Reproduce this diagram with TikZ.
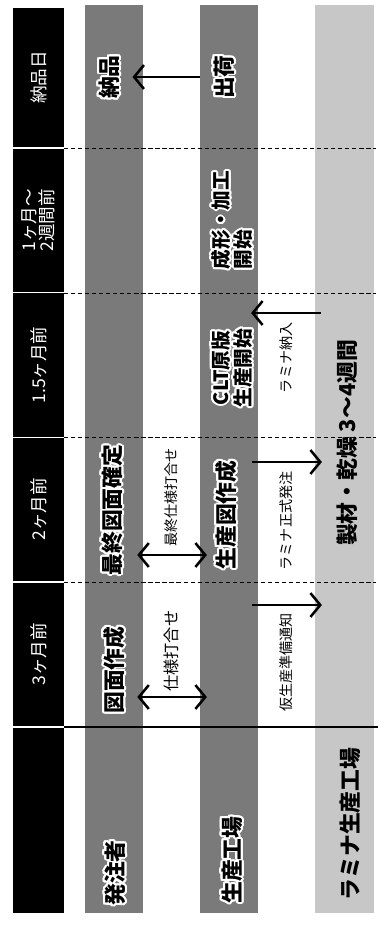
\documentclass[tikz,border=0pt]{standalone}
\usepackage{fontspec}
\setmainfont{Noto Sans CJK JP}
\usepackage{contour}
\contourlength{1.4pt}
\usetikzlibrary{arrows.meta}
\newcommand{\glow}[1]{\contour{white}{#1}}

\begin{document}
\begin{tikzpicture}[x=0.025cm, y=-0.025cm,
  lane/.style={rectangle, inner sep=0pt, minimum width=1.45cm, minimum height=22.7cm},
  hdr/.style={rectangle, rotate=90, fill=black, text=white, inner sep=0pt, minimum height=1.275cm, font=\fontsize{12.5}{13}\selectfont},
  lanetxt/.style={rotate=90, font=\bfseries\fontsize{15.5}{17}\selectfont, inner sep=2pt},
  lbl/.style={rotate=90, font=\fontsize{10}{12}\selectfont, inner sep=3pt},
  arr/.style={-{Straight Barb[length=7pt,width=17pt]}, line width=1.8pt},
  dblarr/.style={{Straight Barb[length=7pt,width=17pt]}-{Straight Barb[length=7pt,width=17pt]}, line width=1.8pt},
  edgein/.style={shorten <=-0.15cm, shorten >=-0.18cm}]
  \useasboundingbox (0,0) rectangle (380,927);

  % Lanes
  \node[lane, fill=black!52] (laneOrder) at (114,459) {};
  \node[lane, fill=black!52] (laneFactory) at (229,459) {};
  \node[lane, fill=black!22, minimum width=1.475cm] (laneLamina) at (344.5,459) {};

  % Header (time line)
  \node[hdr, minimum width=3.475cm] (hDeliv) at (38.5,77.5) {納品日};
  \node[hdr, minimum width=3.575cm, align=left, font=\fontsize{12.5}{12.8}\selectfont] (hWeeks) at (38.5,220.5) {1ヶ月～\\2週間前};
  \node[hdr, minimum width=3.575cm] (hOneHalf) at (38.5,365) {1.5ヶ月前};
  \node[hdr, minimum width=3.575cm] (hTwo) at (38.5,509.5) {2ヶ月前};
  \node[hdr, minimum width=3.575cm] (hThree) at (38.5,654.5) {3ヶ月前};
  \node[hdr, minimum width=4.625cm] (hBlank) at (38.5,820.5) {};

  % Separators
  \foreach \y in {148,293,437,582}
    \draw[densely dashed, line width=0.5pt] (64,\y) -- (376,\y);
  \draw[line width=1.2pt] (64,727) -- (378,727);

  % Client lane
  \node[lanetxt] (deliv) at (110,77) {\glow{納品}};
  \node[lanetxt] (finalDwg) at (113,510) {\glow{最終図面確定}};
  \node[lanetxt] (dwg) at (115,670) {\glow{図面作成}};
  \node[lanetxt] (client) at (116,873) {\glow{発注者}};

  % Factory lane
  \node[lanetxt] (ship) at (225,77) {\glow{出荷}};
  \node[lanetxt, align=left, font=\bfseries\fontsize{14}{14.5}\selectfont] (form) at (233,220) {\glow{成形・加工}\\\glow{開始}};
  \node[lanetxt, align=center, font=\bfseries\fontsize{14}{14.5}\selectfont] (clt) at (233,368) {\glow{CLT原版}\\\glow{生産開始}};
  \node[lanetxt] (prodDwg) at (227,515) {\glow{生産図作成}};
  \node[lanetxt] (factory) at (233,860) {\glow{生産工場}};

  % Lamina lane
  \node[lanetxt] (saw) at (347,443) {製材・乾燥 3～4週間};
  \node[lanetxt] (lamFac) at (350,824) {ラミナ生産工場};

  % Connectors
  \coordinate (ySpec) at (0,697);
  \coordinate (yFinal) at (0,555);
  \coordinate (yOrder) at (0,462);
  \coordinate (yNotice) at (0,605);
  \coordinate (yIn) at (0,313);

  \draw[arr, shorten >=0.2cm] (laneFactory.west |- ship) -- (deliv.south);
  \draw[dblarr, edgein] (laneOrder.east |- ySpec) -- (laneFactory.west |- ySpec)
    node[lbl, midway, anchor=west, font=\fontsize{11.5}{13}\selectfont] {仕様打合せ};
  \draw[dblarr, edgein] (laneOrder.east |- yFinal) -- (laneFactory.west |- yFinal)
    node[lbl, midway, anchor=west, inner sep=5pt] {最終仕様打合せ};
  \draw[arr, edgein] (laneFactory.east |- yNotice) -- (laneLamina.west |- yNotice)
    node[lbl, midway, anchor=east, inner sep=5pt] {仮生産準備通知};
  \draw[arr, edgein] (laneFactory.east |- yOrder) -- (laneLamina.west |- yOrder)
    node[lbl, midway, anchor=east, inner sep=6pt] {ラミナ正式発注};
  \draw[arr, edgein] (laneLamina.west |- yIn) -- (laneFactory.east |- yIn)
    node[lbl, midway, anchor=east, inner sep=6pt] {ラミナ納入};
\end{tikzpicture}
\end{document}
